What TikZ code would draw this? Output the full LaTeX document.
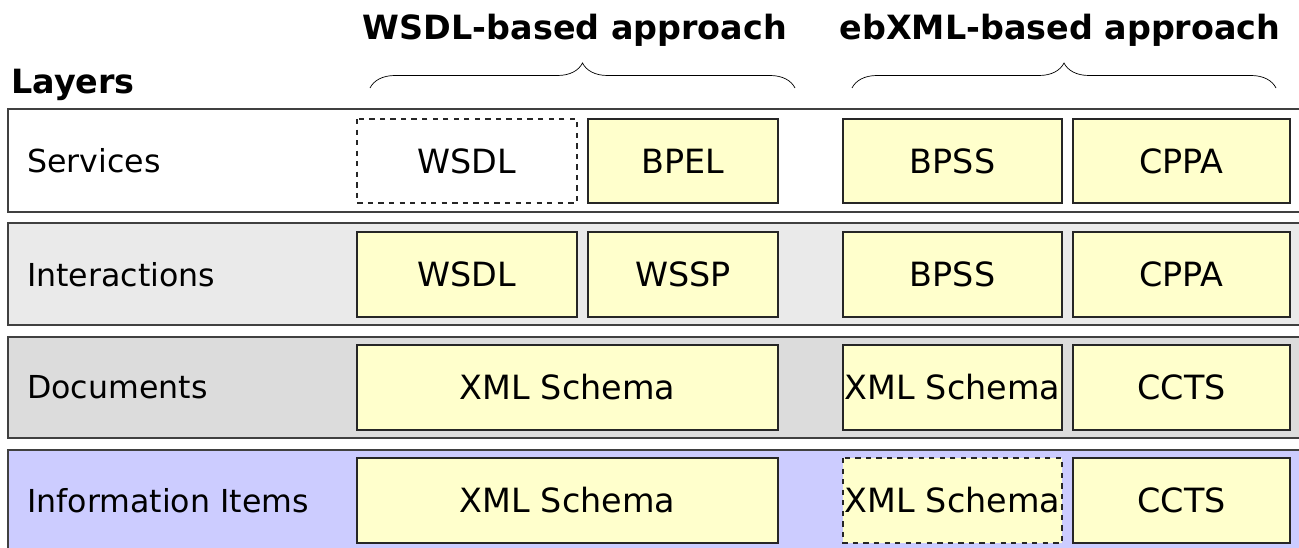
\documentclass[tikz,border=0pt]{standalone}
\usepackage{fontspec}
\setmainfont{DejaVu Sans}
\usetikzlibrary{decorations.pathreplacing}
\definecolor{specyellow}{HTML}{FFFFCC}
\definecolor{layerlight}{HTML}{EAEAEA}
\definecolor{layerdark}{HTML}{DCDCDC}
\definecolor{layerblue}{HTML}{CCCCFF}
\tikzset{
	layer/.style={line width=1pt, draw=black!75},
	spec/.style={thick, draw=black!85, fill=specyellow},
	txt/.style={font=\fontsize{18}{22}\selectfont},
	spectxt/.style={font=\fontsize{19}{23}\selectfont},
	head/.style={font=\fontsize{19}{23}\selectfont\bfseries},
	approach/.style={thin, decorate, decoration={brace, amplitude=0.5cm}}
}
\begin{document}
\begin{tikzpicture}[x=0.2cm, y=-0.2cm]
	\useasboundingbox (0,0) rectangle (129.9,54.8);
	% Ueberschriften
	\node[head] (wsdlhead) at (57.5,3.0) {WSDL-based approach};
	\node[head] (ebxmlhead) at (106.0,3.0) {ebXML-based approach};
	\node[head, anchor=west] (layers) at (0.5,8.5) {Layers};
	% Klammern
	\coordinate (wsdlL) at (37.0,8.8);
	\coordinate (wsdlR) at (79.5,8.8);
	\coordinate (ebxmlL) at (85.2,8.8);
	\coordinate (ebxmlR) at (127.6,8.8);
	\draw[approach] (wsdlL) -- (wsdlR);
	\draw[approach] (ebxmlL) -- (ebxmlR);
	% Schicht Services
	\filldraw[layer, fill=white] (0.8,10.9) rectangle (131,21.2);
	\node[txt, anchor=west] (services) at (2.1,16.1) {Services};
	\draw[spec, dashed, fill=none] (35.7,11.9) rectangle (57.7,20.3);
	\node[spectxt] (wsdlA) at (46.7,16.1) {WSDL};
	\filldraw[spec] (58.8,11.9) rectangle (77.8,20.3);
	\node[spectxt] (bpel) at (68.3,16.1) {BPEL};
	\filldraw[spec] (84.3,11.9) rectangle (106.2,20.3);
	\node[spectxt] (bpssA) at (95.25,16.1) {BPSS};
	\filldraw[spec] (107.3,11.9) rectangle (129.0,20.3);
	\node[spectxt] (cppaA) at (118.15,16.1) {CPPA};
	% Schicht Interactions
	\filldraw[layer, fill=layerlight] (0.8,22.3) rectangle (131,32.5);
	\node[txt, anchor=west] (interactions) at (2.1,27.45) {Interactions};
	\filldraw[spec] (35.7,23.2) rectangle (57.7,31.7);
	\node[spectxt] (wsdlB) at (46.7,27.45) {WSDL};
	\filldraw[spec] (58.8,23.2) rectangle (77.8,31.7);
	\node[spectxt] (wssp) at (68.3,27.45) {WSSP};
	\filldraw[spec] (84.3,23.2) rectangle (106.2,31.7);
	\node[spectxt] (bpssB) at (95.25,27.45) {BPSS};
	\filldraw[spec] (107.3,23.2) rectangle (129.0,31.7);
	\node[spectxt] (cppaB) at (118.15,27.45) {CPPA};
	% Schicht Documents
	\filldraw[layer, fill=layerdark] (0.8,33.7) rectangle (131,43.8);
	\node[txt, anchor=west] (documents) at (2.1,38.75) {Documents};
	\filldraw[spec] (35.7,34.5) rectangle (77.8,43.0);
	\node[spectxt] (xsdA) at (56.75,38.75) {XML Schema};
	\filldraw[spec] (84.3,34.5) rectangle (106.2,43.0);
	\node[spectxt] (xsdB) at (95.25,38.75) {XML Schema};
	\filldraw[spec] (107.3,34.5) rectangle (129.0,43.0);
	\node[spectxt] (cctsA) at (118.15,38.75) {CCTS};
	% Schicht Information Items
	\filldraw[layer, fill=layerblue] (0.8,45.0) rectangle (131,55.2);
	\node[txt, anchor=west] (items) at (2.1,50.05) {Information Items};
	\filldraw[spec] (35.7,45.8) rectangle (77.8,54.3);
	\node[spectxt] (xsdC) at (56.75,50.05) {XML Schema};
	\filldraw[spec, dashed] (84.3,45.8) rectangle (106.2,54.3);
	\node[spectxt] (xsdD) at (95.25,50.05) {XML Schema};
	\filldraw[spec] (107.3,45.8) rectangle (129.0,54.3);
	\node[spectxt] (cctsB) at (118.15,50.05) {CCTS};
\end{tikzpicture}
\end{document}
